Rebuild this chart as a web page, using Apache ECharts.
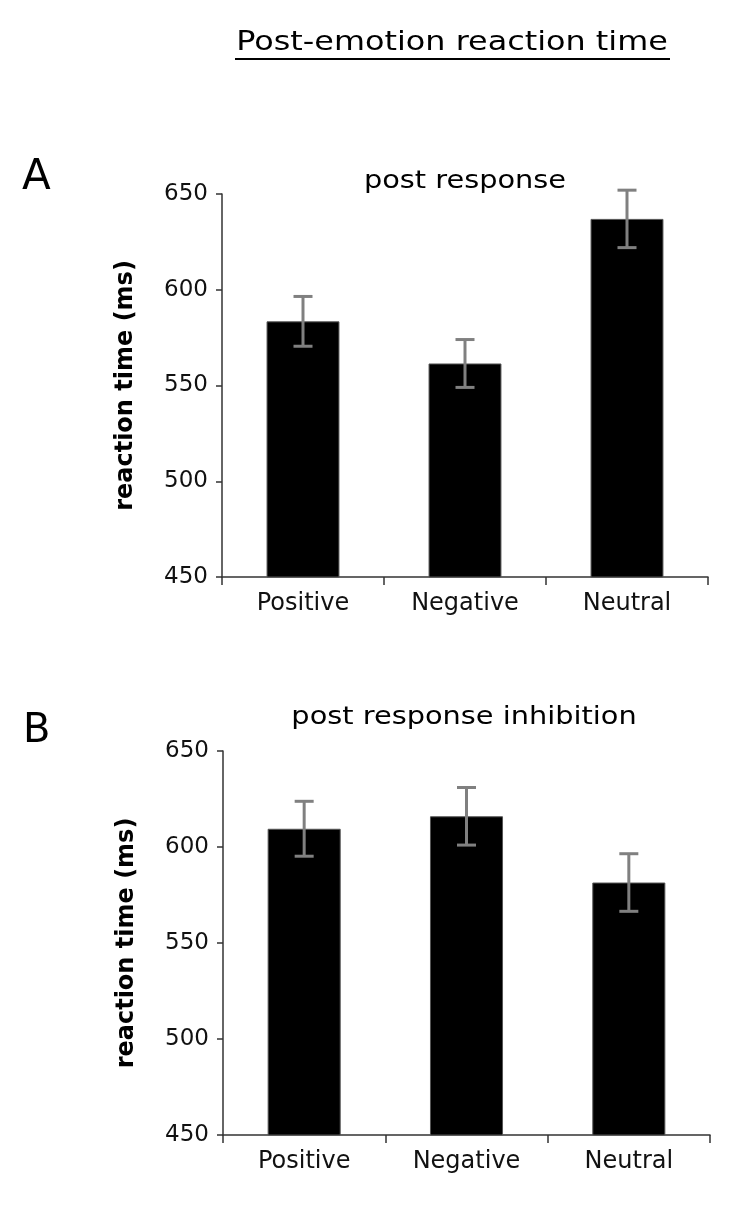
<!DOCTYPE html>
<html>
<head>
<meta charset="utf-8">
<script src="https://cdn.jsdelivr.net/npm/echarts@6/dist/echarts.min.js"></script>
<style>
html,body{margin:0;padding:0;background:#fff;}
#chart{width:750px;height:1205px;}
</style>
</head>
<body>
<div id="chart"></div>
<script>
const categories = ['Positive', 'Negative', 'Neutral'];
const topMeans = [583.5, 561.5, 637];
const topErr = [13, 12.5, 15];
const botMeans = [609.5, 616, 581.5];
const botErr = [14.3, 15, 15];
const yTicks = [450, 500, 550, 600, 650];
const mainTitle = 'Post-emotion reaction time';
const topSubtitle = 'post response';
const botSubtitle = 'post response inhibition';
const yName = 'reaction time (ms)';

const FONT = 'DejaVu Sans';
const chart = echarts.init(document.getElementById('chart'));

function errData(means, errs) {
  return means.map((m, i) => [i, m - errs[i], m + errs[i]]);
}
function errRender(params, api) {
  const x = api.value(0);
  const lo = api.coord([x, api.value(1)]);
  const hi = api.coord([x, api.value(2)]);
  const half = 9.5;
  const st = { stroke: '#808080', lineWidth: 3 };
  return {
    type: 'group',
    children: [
      { type: 'line', shape: { x1: hi[0], y1: hi[1], x2: lo[0], y2: lo[1] }, style: st },
      { type: 'line', shape: { x1: hi[0] - half, y1: hi[1], x2: hi[0] + half, y2: hi[1] }, style: st },
      { type: 'line', shape: { x1: lo[0] - half, y1: lo[1], x2: lo[0] + half, y2: lo[1] }, style: st }
    ]
  };
}
function xAxisCfg(idx) {
  return {
    type: 'category', gridIndex: idx, data: categories,
    axisLine: { lineStyle: { color: '#333', width: 1.5 } },
    axisTick: { show: true, length: 8, lineStyle: { color: '#333', width: 1.5 } },
    axisLabel: { color: '#111', fontFamily: FONT, fontSize: 24, margin: 15 }
  };
}
function yAxisCfg(idx) {
  return {
    type: 'value', gridIndex: idx, min: 450, max: 650, interval: 50,
    name: yName, nameLocation: 'middle', nameGap: 84,
    nameTextStyle: { fontFamily: FONT, fontWeight: 'bold', fontSize: 24, color: '#000' },
    axisLine: { show: true, lineStyle: { color: '#333', width: 1.5 } },
    axisTick: { show: true, length: 6, lineStyle: { color: '#333', width: 1.5 } },
    axisLabel: { color: '#111', fontFamily: FONT, fontSize: 23, margin: 14,
      formatter: v => yTicks.includes(v) ? String(v) : '' },
    splitLine: { show: false }
  };
}

chart.setOption({
  animation: false,
  backgroundColor: '#fff',
  grid: [
    { left: 222, top: 194, width: 486, height: 383 },
    { left: 223, top: 751, width: 487, height: 384 }
  ],
  xAxis: [xAxisCfg(0), xAxisCfg(1)],
  yAxis: [yAxisCfg(0), yAxisCfg(1)],
  series: [
    { type: 'bar', xAxisIndex: 0, yAxisIndex: 0, data: topMeans, barWidth: '45%',
      itemStyle: { color: '#000', borderColor: '#555', borderWidth: 1 } },
    { type: 'custom', xAxisIndex: 0, yAxisIndex: 0, data: errData(topMeans, topErr), renderItem: errRender, z: 5 },
    { type: 'bar', xAxisIndex: 1, yAxisIndex: 1, data: botMeans, barWidth: '45%',
      itemStyle: { color: '#000', borderColor: '#555', borderWidth: 1 } },
    { type: 'custom', xAxisIndex: 1, yAxisIndex: 1, data: errData(botMeans, botErr), renderItem: errRender, z: 5 }
  ],
  graphic: [
    { type: 'text', x: 452, y: 43, scaleX: 1.18, style: { text: mainTitle, fontFamily: FONT, fontSize: 27, fill: '#000', textAlign: 'center', textVerticalAlign: 'middle' } },
    { type: 'line', shape: { x1: 235, y1: 59, x2: 670, y2: 59 }, style: { stroke: '#000', lineWidth: 2 } },
    { type: 'text', x: 22, y: 178, style: { text: 'A', fontFamily: FONT, fontSize: 42, fill: '#000', textAlign: 'left', textVerticalAlign: 'middle' } },
    { type: 'text', x: 23, y: 732, style: { text: 'B', fontFamily: FONT, fontSize: 40, fill: '#000', textAlign: 'left', textVerticalAlign: 'middle' } },
    { type: 'text', x: 465, y: 182, scaleX: 1.2, style: { text: topSubtitle, fontFamily: FONT, fontSize: 24, fill: '#000', textAlign: 'center', textVerticalAlign: 'middle' } },
    { type: 'text', x: 464, y: 718, scaleX: 1.2, style: { text: botSubtitle, fontFamily: FONT, fontSize: 24, fill: '#000', textAlign: 'center', textVerticalAlign: 'middle' } }
  ]
});
</script>
</body>
</html>
